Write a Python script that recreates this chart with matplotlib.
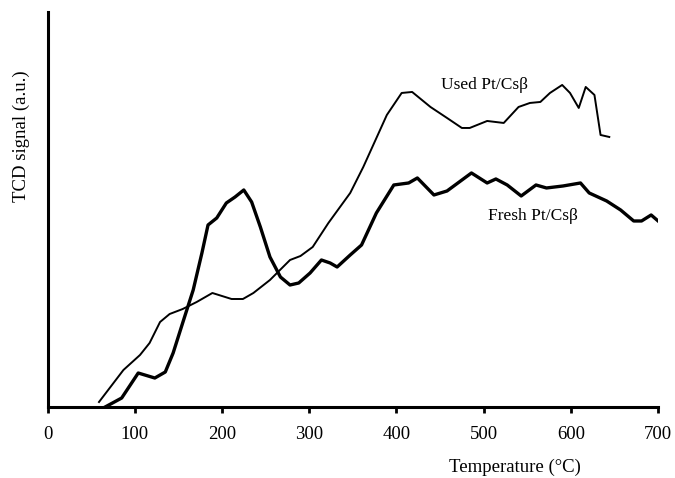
import matplotlib
matplotlib.use("Agg")
import matplotlib.pyplot as plt

# TPD profiles: temperature (°C) vs TCD signal (arbitrary units)
used_temp = [59, 87, 106, 117, 129, 140, 155, 171, 189, 211, 224, 236, 255, 278, 290,
             304, 322, 347, 362, 389, 406, 418, 439, 458, 475, 484, 504, 523, 540,
             553, 565, 576, 590, 599, 609, 617, 627, 634, 644]
used_signal = [5, 37, 52, 64, 85, 93, 98, 105, 114, 108, 108, 114, 127, 147, 151,
               160, 184, 214, 240, 292, 314, 315, 300, 289, 279, 279, 286, 284, 300,
               304, 305, 314, 322, 314, 299, 320, 312, 272, 270]

fresh_temp = [66, 85, 104, 123, 135, 144, 156, 167, 177, 184, 194, 205, 215, 225, 234,
              244, 255, 267, 278, 288, 301, 314, 324, 332, 347, 360, 377, 397, 414,
              424, 443, 458, 486, 504, 514, 527, 543, 560, 572, 591, 611, 621, 641,
              657, 672, 681, 692, 700]
fresh_signal = [0, 9, 34, 29, 35, 54, 87, 117, 154, 182, 189, 204, 210, 217, 205,
                180, 150, 130, 122, 124, 134, 147, 144, 140, 152, 162, 194, 222, 224,
                229, 212, 216, 234, 224, 228, 222, 211, 222, 219, 221, 224, 214, 206,
                197, 186, 186, 192, 186]

x_ticks = [0, 100, 200, 300, 400, 500, 600, 700]

plt.rcParams["font.family"] = ["Liberation Serif", "DejaVu Serif"]

fig = plt.figure(figsize=(6.75, 4.78), dpi=100)
ax = fig.add_axes([0.0704, 0.1485, 0.9046, 0.8265])

ax.plot(used_temp, used_signal, color="black", lw=1.4, solid_joinstyle="round")
ax.plot(fresh_temp, fresh_signal, color="black", lw=2.4, solid_joinstyle="round")

ax.set_xlim(0, 700)
ax.set_ylim(0, 395)
ax.set_xticks(x_ticks)
ax.set_xticklabels([str(t) for t in x_ticks], fontsize=13.5)
ax.set_yticks([])
ax.tick_params(axis="x", direction="out", length=4, width=2, pad=10)

for side in ("top", "right"):
    ax.spines[side].set_visible(False)
for side in ("left", "bottom"):
    ax.spines[side].set_linewidth(2.2)

ax.text(0.716, 0.815, "Used Pt/Csβ", transform=ax.transAxes, fontsize=12.5,
        ha="center", va="center")
ax.text(0.795, 0.484, "Fresh Pt/Csβ", transform=ax.transAxes, fontsize=12.5,
        ha="center", va="center")

fig.text(515 / 675, 1 - 467 / 478, "Temperature (°C)", fontsize=13.5,
         ha="center", va="center")
fig.text(21 / 675, 1 - 136 / 478, "TCD signal (a.u.)", fontsize=13.5,
         ha="center", va="center", rotation=90)

fig.savefig("out.png", dpi=100)
